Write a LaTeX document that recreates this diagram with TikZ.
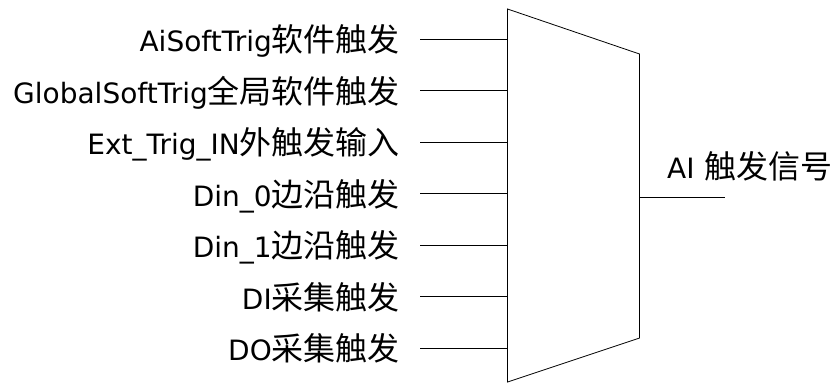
\documentclass[tikz,border=0pt]{standalone}
\usepackage{fontspec}
\setmainfont{DejaVu Sans}
\newfontfamily\cjk{Noto Sans CJK SC}
\newcommand{\zh}[1]{{\cjk\fontsize{32}{36}\selectfont #1}}
\begin{document}
\begin{tikzpicture}[x=1pt,y=-1pt,
  lbl/.style={anchor=base east,inner sep=0pt,font=\fontsize{28}{30}\selectfont},
  wire/.style={draw=black,line width=0.8pt}]
\useasboundingbox (0,0) rectangle (835,383);
% multiplexer outline
\coordinate (tl) at (507.5,9);
\coordinate (tr) at (639.5,54);
\coordinate (br) at (639.5,338);
\coordinate (bl) at (507.5,382);
\draw[wire,line join=miter] (tl) -- (tr) -- (br) -- (bl) -- cycle;
% inputs
\foreach \i/\t in {1/{AiSoftTrig\zh{软件触发}},
                   2/{GlobalSoftTrig\zh{全局软件触发}},
                   3/{Ext\_Trig\_IN\zh{外触发输入}},
                   4/{Din\_0\zh{边沿触发}},
                   5/{Din\_1\zh{边沿触发}},
                   6/{DI\zh{采集触发}},
                   7/{DO\zh{采集触发}}}{
  \pgfmathsetmacro\yy{39+51.5*(\i-1)}
  \node[lbl] (t\i) at (400,\yy+12.5) {\t};
  \coordinate (s\i) at (420,\yy);
  \coordinate (e\i) at (507.5,\yy);
  \draw[wire] (s\i) -- (e\i);
}
% output
\coordinate (os) at (639.5,197);
\coordinate (oe) at (725,197);
\draw[wire] (os) -- (oe);
\node[anchor=base west,inner sep=0pt,font=\fontsize{28}{30}\selectfont] (out) at (667,178) {AI\hspace{0.35em}\zh{触发信号}};
\end{tikzpicture}
\end{document}
